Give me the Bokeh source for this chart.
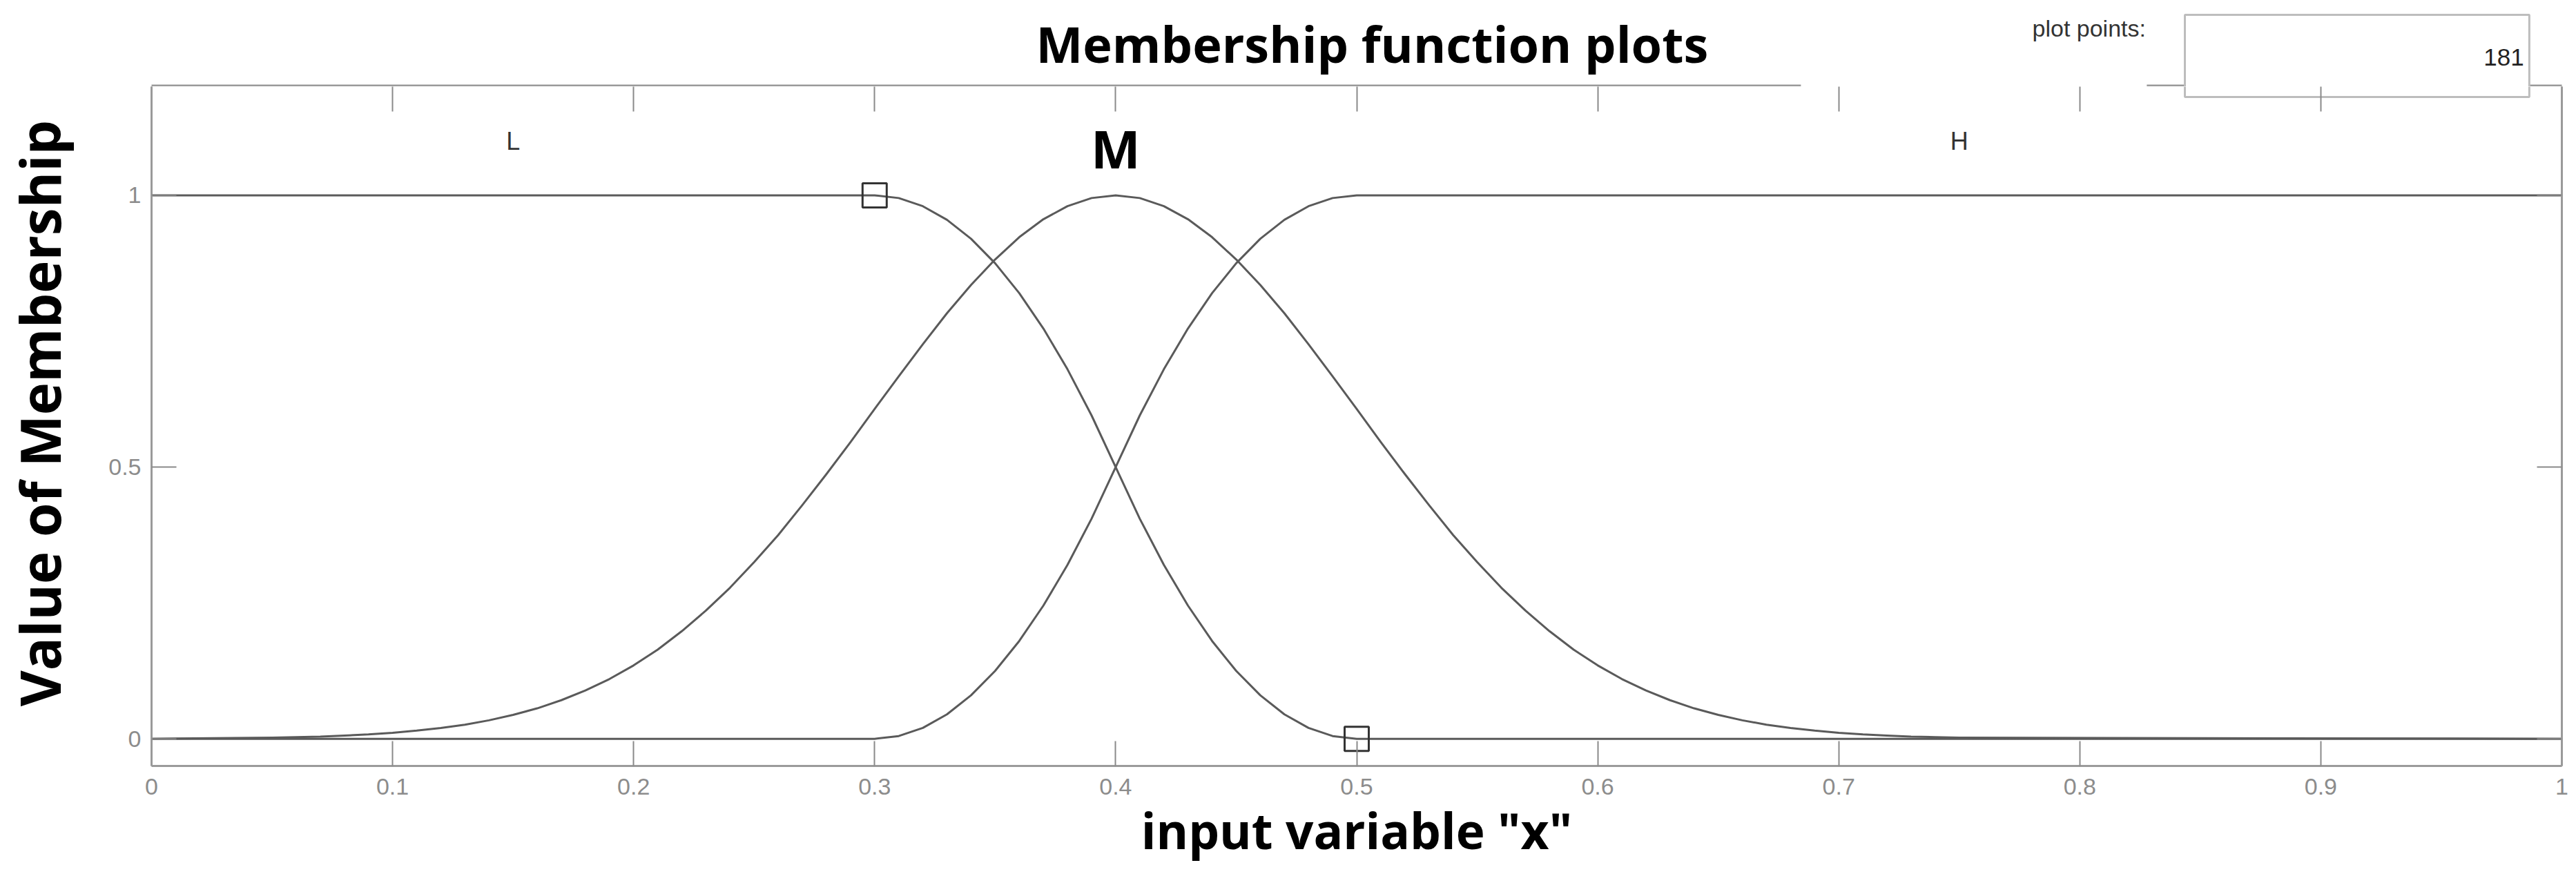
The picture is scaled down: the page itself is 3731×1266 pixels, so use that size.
from bokeh.plotting import figure
from bokeh.layouts import column, row
from bokeh.models import LinearAxis, FixedTicker, Label, Range1d
from bokeh.core.properties import value
from bokeh.embed import file_html
from bokeh.resources import INLINE

# ---------------- data ----------------
x_ticks = [0, 0.1, 0.2, 0.3, 0.4, 0.5, 0.6, 0.7, 0.8, 0.9, 1]
x_tick_labels = ["0", "0.1", "0.2", "0.3", "0.4", "0.5", "0.6", "0.7", "0.8", "0.9", "1"]
y_ticks = [0, 0.5, 1]
y_tick_labels = ["0", "0.5", "1"]

mf_names = ["L", "M", "H"]
mf_label_x = [0.15, 0.40, 0.75]

# "L" (z-shaped) membership function
L_x = [0.00, 0.30, 0.31, 0.32, 0.33, 0.34, 0.35, 0.36, 0.37, 0.38, 0.39, 0.40,
       0.41, 0.42, 0.43, 0.44, 0.45, 0.46, 0.47, 0.48, 0.49, 0.50, 1.00]
L_y = [1.000, 1.000, 0.995, 0.980, 0.955, 0.920, 0.875, 0.820, 0.755, 0.680, 0.595, 0.500,
       0.405, 0.320, 0.245, 0.180, 0.125, 0.080, 0.045, 0.020, 0.005, 0.000, 0.000]

# "M" (bell-shaped) membership function
M_x = [0.00, 0.05, 0.06, 0.07, 0.08, 0.09, 0.10, 0.11, 0.12, 0.13, 0.14, 0.15, 0.16,
       0.17, 0.18, 0.19, 0.20, 0.21, 0.22, 0.23, 0.24, 0.25, 0.26, 0.27, 0.28,
       0.29, 0.30, 0.31, 0.32, 0.33, 0.34, 0.35, 0.36, 0.37, 0.38, 0.39, 0.40,
       0.41, 0.42, 0.43, 0.44, 0.45, 0.46, 0.47, 0.48, 0.49, 0.50, 0.51, 0.52,
       0.53, 0.54, 0.55, 0.56, 0.57, 0.58, 0.59, 0.60, 0.61, 0.62, 0.63, 0.64,
       0.65, 0.66, 0.67, 0.68, 0.69, 0.70, 0.71, 0.72, 0.73, 0.74, 0.75, 1.00]
M_y = [0.000, 0.002, 0.003, 0.004, 0.006, 0.008, 0.011, 0.015, 0.020, 0.026, 0.034, 0.044, 0.056,
       0.071, 0.089, 0.110, 0.135, 0.164, 0.198, 0.236, 0.278, 0.325, 0.375, 0.430, 0.487,
       0.546, 0.607, 0.667, 0.726, 0.783, 0.835, 0.882, 0.923, 0.956, 0.980, 0.995, 1.000,
       0.995, 0.980, 0.956, 0.923, 0.882, 0.835, 0.783, 0.726, 0.667, 0.607, 0.546, 0.487,
       0.430, 0.375, 0.325, 0.278, 0.236, 0.198, 0.164, 0.135, 0.110, 0.089, 0.071, 0.056,
       0.044, 0.034, 0.026, 0.020, 0.015, 0.011, 0.008, 0.006, 0.004, 0.003, 0.002, 0.000]

# "H" (s-shaped) membership function
H_x = [0.00, 0.30, 0.31, 0.32, 0.33, 0.34, 0.35, 0.36, 0.37, 0.38, 0.39, 0.40,
       0.41, 0.42, 0.43, 0.44, 0.45, 0.46, 0.47, 0.48, 0.49, 0.50, 1.00]
H_y = [0.000, 0.000, 0.005, 0.020, 0.045, 0.080, 0.125, 0.180, 0.245, 0.320, 0.405, 0.500,
       0.595, 0.680, 0.755, 0.820, 0.875, 0.920, 0.955, 0.980, 0.995, 1.000, 1.000]

# selected-point markers
marker_x = [0.3, 0.5]
marker_y = [1.0, 0.0]

title_text = "Membership function plots"
x_title = 'input variable "x"'
y_title = "Value of Membership"
plot_points_label = "plot points:"
plot_points_value = "181"

# ---------------- styling constants ----------------
W, H_TOTAL = 3731, 1266
LEFT_W = 130
BAND_H = 125
LEFT, RIGHT, BOTTOM = 219 - LEFT_W, 21, 157
AXIS_COLOR = "#9a9a9a"
TICK_COLOR = "#8a8a8a"
LABEL_COLOR = "#8c8c8c"
CURVE = "#5a5a5a"
BOX_LINE = "#bdbdbd"

# ---------------- left strip (y axis title) ----------------
left = figure(width=LEFT_W, height=H_TOTAL, x_range=Range1d(0, LEFT_W),
              y_range=Range1d(0, H_TOTAL), output_backend="svg", toolbar_location=None,
              x_axis_location=None, y_axis_location=None,
              min_border_left=0, min_border_right=0, min_border_top=0, min_border_bottom=0)
left.outline_line_color = None
left.grid.visible = False
left.text(x=[56], y=[668], text=[y_title], angle=1.5707963, text_align="center",
          text_baseline="alphabetic", text_font=value("Open Sans"),
          text_font_style="bold", text_font_size=value("80px"), text_color="black")

# ---------------- top band (title, plot points box, top border) ----------------
band = figure(width=W - LEFT_W, height=BAND_H, x_range=Range1d(0, 1), y_range=Range1d(0, BAND_H),
              output_backend="svg", toolbar_location=None,
              x_axis_location=None, y_axis_location=None,
              min_border_left=LEFT, min_border_right=RIGHT,
              min_border_top=0, min_border_bottom=0)
band.outline_line_color = None
band.grid.visible = False

# top border of the plot area, interrupted where the panel label sits
band.segment(x0=[-0.0005, 0.8278], y0=[1.5, 1.5], x1=[0.6843, 1.0005], y1=[1.5, 1.5],
             line_color=AXIS_COLOR, line_width=3)
# edit box
band.quad(left=[0.8436], right=[0.9865], bottom=[-15], top=[104],
          fill_color="white", line_color=BOX_LINE, line_width=3)
band.text(x=[0.5064], y=[63], text=[title_text], text_align="center",
          text_baseline="alphabetic", text_font=value("Open Sans"),
          text_font_style="bold", text_font_size=value("72px"), text_color="black")
band.text(x=[0.7803], y=[85], text=[plot_points_label], text_align="left",
          text_baseline="alphabetic", text_font=value("Liberation Sans"),
          text_font_size=value("34px"), text_color="#333333")
band.text(x=[0.9843], y=[43], text=[plot_points_value], text_align="right",
          text_baseline="alphabetic", text_font=value("Liberation Sans"),
          text_font_size=value("35px"), text_color="#222222")

# ---------------- main plot ----------------
p = figure(width=W - LEFT_W, height=H_TOTAL - BAND_H,
           x_range=Range1d(0, 1), y_range=Range1d(-0.05, 1.2),
           output_backend="svg", toolbar_location=None,
           x_axis_location=None, y_axis_location=None,
           min_border_left=LEFT, min_border_right=RIGHT,
           min_border_top=0, min_border_bottom=BOTTOM)
p.outline_line_color = None
p.grid.visible = False
p.background_fill_color = "white"
p.border_fill_color = "white"


def make_axis(ticks, labels, show_labels, standoff, line=True):
    ax = LinearAxis(ticker=FixedTicker(ticks=ticks))
    ax.major_label_overrides = {t: l for t, l in zip(ticks, labels)}
    ax.axis_line_color = AXIS_COLOR if line else None
    ax.axis_line_width = 3
    ax.major_tick_in = 36
    ax.major_tick_out = 0
    ax.major_tick_line_color = TICK_COLOR
    ax.major_tick_line_width = 2
    ax.minor_tick_line_color = None
    ax.major_label_text_font = "Liberation Sans"
    if show_labels:
        ax.major_label_text_color = LABEL_COLOR
        ax.major_label_text_font_size = "34px"
        ax.major_label_standoff = standoff
    else:
        ax.major_label_text_color = None
        ax.major_label_text_font_size = "1px"
        ax.major_label_standoff = 0
    return ax


xb = make_axis(x_ticks, x_tick_labels, True, 18)
xb.axis_label = x_title
xb.axis_label_text_font = "Open Sans"
xb.axis_label_text_font_style = "bold"
xb.axis_label_text_font_size = "71px"
xb.axis_label_text_color = "black"
xb.axis_label_standoff = 0
p.add_layout(xb, "below")

p.add_layout(make_axis(y_ticks, y_tick_labels, True, 15), "left")
p.add_layout(make_axis(x_ticks, x_tick_labels, False, 0, line=False), "above")
p.add_layout(make_axis(y_ticks, y_tick_labels, False, 0), "right")

# lower part of the edit box that overlaps the plot area
p.quad(left=[0.8436], right=[0.9865], bottom=[1.1810], top=[1.25],
       fill_color="white", line_color=BOX_LINE, line_width=3)

for xs, ys in [(L_x, L_y), (M_x, M_y), (H_x, H_y)]:
    p.line(xs, ys, line_color=CURVE, line_width=3, line_join="round")

p.scatter(marker_x, marker_y, marker="square", size=35, fill_color=None,
          line_color="#333333", line_width=3)

# membership function names
p.add_layout(Label(x=mf_label_x[0], y=1.100, text=mf_names[0], text_align="center",
                   text_baseline="alphabetic", text_font="Liberation Sans",
                   text_font_size="36px", text_color="#333333"))
p.add_layout(Label(x=mf_label_x[1], y=1.0875, text=mf_names[1], text_align="center",
                   text_baseline="alphabetic", text_font="Open Sans", text_font_style="bold",
                   text_font_size="76px", text_color="black"))
p.add_layout(Label(x=mf_label_x[2], y=1.100, text=mf_names[2], text_align="center",
                   text_baseline="alphabetic", text_font="Liberation Sans",
                   text_font_size="36px", text_color="#333333"))

layout = row(left, column(band, p, spacing=0), spacing=0)
open("out.html", "w").write(file_html(layout, INLINE))
